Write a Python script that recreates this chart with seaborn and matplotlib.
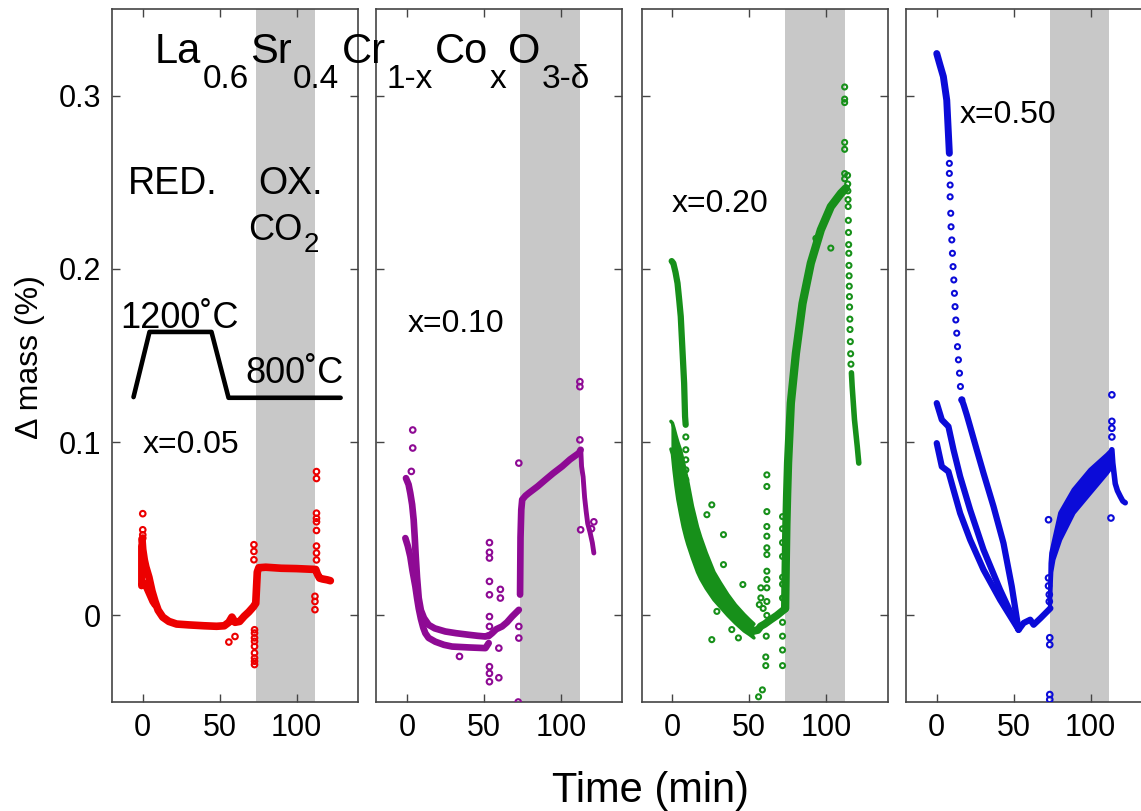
import matplotlib
matplotlib.use("Agg")
import matplotlib.pyplot as plt
import seaborn as sns

# ---------------- data ----------------
# Panel 1, x = 0.05 (red)
red_t = [-0.5, 0.0, 1.0, 2.0, 3.0, 4.0, 5.0, 6.0, 8.0, 10.0, 13.0, 17.0, 22.0, 30.0, 40.0, 48.0, 53.0,
         56.0, 58.0, 60.0, 63.0, 66.0, 69.0, 72.0, 73.5, 74.0, 74.5, 75.5, 80.0, 90.0, 100.0, 110.0,
         112.5, 113.5, 115.0, 117.0, 120.0, 122.0]
red_y = [0.044, 0.038, 0.032, 0.028, 0.025, 0.022, 0.018, 0.014, 0.008, 0.003, -0.001, -0.0035, -0.005,
         -0.0055, -0.006, -0.0063, -0.006, -0.004, -0.001, -0.004, -0.0035, -0.0005, 0.002, 0.005, 0.007,
         0.016, 0.025, 0.0275, 0.0278, 0.0272, 0.0270, 0.0266, 0.0265, 0.024, 0.0215, 0.021, 0.0205, 0.020]
red_lo_t = [-0.8, -0.8, 0.5, 2.0, 3.5, 5.0, 6.5, 8.0]
red_lo_y = [0.040, 0.017, 0.019, 0.017, 0.014, 0.011, 0.008, 0.006]
red_out_t = [0.0, 0.0, 0.0, 0.0, 56.0, 60.0, 72.3, 72.3, 72.3, 72.7, 72.7, 72.7, 72.7, 72.7, 72.7,
             72.7, 72.7, 72.7, 113.0, 113.0, 113.0, 113.0, 113.0, 113.0, 113.0, 113.0, 113.0,
             112.0, 112.0, 112.0]
red_out_y = [0.0587, 0.0494, 0.0465, 0.0446, -0.0154, -0.0122, 0.0408, 0.0369, 0.0321, -0.0083,
             -0.0102, -0.013, -0.015, -0.0179, -0.0217, -0.0246, -0.0265, -0.0284, 0.083, 0.079,
             0.059, 0.056, 0.054, 0.049, 0.040, 0.036, 0.032, 0.011, 0.008, 0.0033]

# Panel 2, x = 0.10 (purple)
pur_a_t = [-0.7, 1.0, 2.1, 3.3, 4.3, 5.0, 5.6, 6.5, 7.6, 9.0, 11.0, 14.1, 18.0, 24.9, 32.0, 40.1,
           46.0, 51.0, 53.0]
pur_a_y = [0.0792, 0.0755, 0.0706, 0.064, 0.0552, 0.045, 0.035, 0.022, 0.010, 0.003, -0.0015,
           -0.0055, -0.0075, -0.0093, -0.0103, -0.0112, -0.0118, -0.0122, -0.0115]
pur_b_t = [-1.1, 0.5, 2.1, 3.5, 5.4, 6.5, 7.6, 9.0, 10.5, 11.9, 14.0, 18.4, 24.0, 29.3, 40.0, 51.0, 53.1]
pur_b_y = [0.0446, 0.040, 0.034, 0.026, 0.0167, 0.010, 0.004, -0.002, -0.007, -0.0103, -0.013,
           -0.0152, -0.017, -0.018, -0.0185, -0.0189, -0.016]
pur_c_t = [53.0, 55.3, 58.0, 61.8, 65.0, 68.3, 72.7]
pur_c_y = [-0.012, -0.0103, -0.008, -0.0064, -0.004, -0.0007, 0.0032]
pur_ox_t = [73.5, 73.8, 74.3, 74.9, 77.0, 79.2, 85.0, 90.0, 95.0, 100.9, 106.0, 111.8, 112.9]
pur_ox_y = [0.012, 0.045, 0.061, 0.0668, 0.069, 0.0706, 0.0745, 0.0783, 0.082, 0.086, 0.090,
            0.0937, 0.0956]
pur_end_t = [113.0, 113.5, 114.5, 115.5, 116.5, 117.5, 119.0, 120.5, 121.5]
pur_end_y = [0.0956, 0.086, 0.080, 0.068, 0.060, 0.053, 0.048, 0.042, 0.036]
pur_out_t = [3.7, 3.7, 2.8, 53.6, 53.6, 53.6, 53.6, 53.6, 53.6, 53.6, 53.6, 53.6, 53.6, 59.7, 59.7,
             60.7, 60.7, 34.1, 72.7, 72.7, 72.7, 72.3, 112.4, 112.4, 112.4, 112.9, 121.5, 120.0]
pur_out_y = [0.107, 0.0966, 0.0831, 0.042, 0.0364, 0.0331, 0.0196, 0.0119, -0.0007, -0.0064,
             -0.0296, -0.0335, -0.0383, -0.036, -0.0189, 0.015, 0.010, -0.0237, 0.0879, -0.0064,
             -0.0131, -0.050, 0.1349, 0.132, 0.1013, 0.0494, 0.054, 0.050]

# Panel 3, x = 0.20 (green)
grn_a_t = [-0.5, 0.6, 2.0, 3.3, 4.4, 5.4, 6.5, 7.6, 8.2, 8.6]
grn_a_y = [0.2045, 0.2032, 0.198, 0.1917, 0.182, 0.1725, 0.1533, 0.134, 0.1148, 0.110]
grn_b_t = [-1.0, 0.0, 1.0, 2.2, 3.5, 5.4, 7.0, 8.7, 10.0, 13.0, 16.3, 18.4, 22.0, 27.0, 31.0, 36.0,
           41.0, 46.6, 50.0, 53.0]
grn_b_hi = [0.112, 0.111, 0.108, 0.104, 0.100, 0.095, 0.089, 0.082, 0.077, 0.063, 0.051, 0.045,
            0.036, 0.025, 0.019, 0.012, 0.006, 0.0005, -0.0025, -0.005]
grn_b_lo = [0.096, 0.093, 0.084, 0.075, 0.067, 0.058, 0.051, 0.045, 0.041, 0.033, 0.025,
            0.021, 0.0155, 0.009, 0.005, 0.000, -0.0045, -0.009, -0.011, -0.013]
grn_c_t = [53.0, 55.5, 57.4, 60.0, 63.9, 68.0, 72.6]
grn_c_y = [-0.009, -0.0085, -0.0063, -0.005, -0.0025, 0.000, 0.0033]
grn_ox_t = [73.3, 73.7, 74.1, 74.6, 75.2, 77.0, 80.3, 84.6, 90.0, 96.5, 103.0, 109.6, 112.8]
grn_ox_y = [0.004, 0.030, 0.052, 0.070, 0.088, 0.1225, 0.1513, 0.180, 0.2033, 0.2225, 0.2359,
            0.2436, 0.2465]
grn_dec_t = [116.4, 116.9, 118.4, 120.2, 121.2]
grn_dec_y = [0.140, 0.132, 0.1129, 0.0975, 0.0879]
grn_out_t = [8.7, 8.7, 8.7, 8.7, 8.7, 8.7,
             113.9, 114.0, 114.1, 114.2, 114.3, 114.4, 114.5, 114.6, 114.7, 114.8, 114.9, 115.0,
             115.1, 115.2, 115.4, 115.5, 115.7, 115.9, 116.1,
             112.0, 112.0, 112.0, 112.0, 112.0, 112.0, 112.0, 103.0, 93.3,
             61.4, 61.4, 61.4, 61.4, 61.4, 61.4, 61.4, 61.4, 61.4, 61.4, 61.4, 61.4, 61.0, 60.7, 60.7,
             58.5, 56.0, 57.5, 57.5, 56.5, 59.0,
             25.6, 22.4, 33.2, 33.2, 45.8, 28.9, 25.6, 38.6, 42.9,
             71.6, 71.6, 71.6, 71.6, 71.6, 71.6, 71.6, 71.6, 71.6, 71.6, 71.6]
grn_out_y = [0.103, 0.0956, 0.0898, 0.084, 0.0783, 0.0725,
             0.254, 0.249, 0.245, 0.240, 0.236, 0.228, 0.221, 0.214, 0.209, 0.202, 0.196, 0.190,
             0.184, 0.178, 0.171, 0.165, 0.158, 0.151, 0.145,
             0.305, 0.298, 0.296, 0.273, 0.269, 0.255, 0.252, 0.212, 0.2176,
             0.0811, 0.0744, 0.0599, 0.0513, 0.0457, 0.039, 0.0351, 0.0255, 0.0207, 0.0159, 0.008, 0.0,
             -0.012, -0.024, -0.029,
             -0.043, -0.047, 0.0159, 0.0101, 0.0062, 0.004,
             0.0638, 0.0581, 0.0466, 0.0293, 0.0178, 0.0023, -0.014, -0.0082, -0.013,
             0.057, 0.050, 0.042, 0.034, 0.022, 0.018, 0.010, -0.004, -0.012, -0.020, -0.029]

# Panel 4, x = 0.50 (blue)
blu_c1_t = [0.0, 2.0, 4.3, 6.5, 8.2]
blu_c1_y = [0.3243, 0.318, 0.311, 0.2974, 0.2667]
blu_chain_t = [8.2, 8.2, 8.7, 8.7, 9.1, 9.3, 9.8, 10.2, 10.6, 11.1, 11.5, 11.9, 12.4, 13.0, 13.5,
               14.1, 14.8, 15.4, 16.3]
blu_chain_y = [0.2609, 0.2551, 0.2484, 0.2416, 0.2321, 0.2243, 0.2167, 0.2090, 0.2013, 0.1936,
               0.1859, 0.1782, 0.1705, 0.1629, 0.1551, 0.1475, 0.1398, 0.1321, 0.1244]
blu_c1b_t = [16.3, 17.5, 19.6, 21.7, 26.0, 30.4, 36.9, 43.4, 48.8, 53.2]
blu_c1b_y = [0.1244, 0.1215, 0.1155, 0.109, 0.0956, 0.0821, 0.0629, 0.0417, 0.0167, -0.0082]
blu_c2_t = [0.0, 3.3, 7.6, 10.9, 15.2, 21.7, 30.4, 41.2, 53.2]
blu_c2_y = [0.1225, 0.1129, 0.109, 0.0956, 0.0802, 0.061, 0.0379, 0.0148, -0.0082]
blu_c3_t = [0.0, 3.3, 7.6, 10.9, 15.2, 21.7, 30.4, 41.2, 53.2]
blu_c3_y = [0.0994, 0.0859, 0.083, 0.0725, 0.059, 0.0437, 0.0264, 0.009, -0.0082]
blu_min_t = [53.2, 56.5, 60.8, 63.0, 67.4, 73.9]
blu_min_y = [-0.0084, -0.0044, -0.0025, -0.0054, -0.0017, 0.0041]
blu_ox_t = [73.6, 74.0, 74.5, 75.9, 80.3, 89.0, 99.8, 110.7, 113.9]
blu_ox_hi = [0.008, 0.030, 0.036, 0.0417, 0.0591, 0.0725, 0.084, 0.0927, 0.0956]
blu_ox_lo = [0.004, 0.015, 0.025, 0.0322, 0.0437, 0.0591, 0.0706, 0.0821, 0.086]
blu_end_t = [113.9, 114.5, 116.1, 117.5, 119.4, 121.0, 122.6]
blu_end_y = [0.0956, 0.088, 0.076, 0.072, 0.0686, 0.066, 0.065]
blu_out_t = [113.9, 113.9, 113.9, 113.9, 113.3, 72.7, 72.7, 72.7, 73.2, 73.2, 73.5, 73.5, 73.5, 73.5]
blu_out_y = [0.1273, 0.112, 0.108, 0.103, 0.0562, 0.0552, 0.0216, 0.017, 0.012, 0.008, -0.0129,
             -0.0169, -0.0457, -0.0486]

# temperature programme sketch (panel 1)
temp_t = [-6.0, 4.4, 44.7, 55.8, 128.7]
temp_y = [0.126, 0.1636, 0.1636, 0.1256, 0.1256]

ox_start, ox_end = 73.5, 112.3
xticks = [0, 50, 100]
yticks = [0, 0.1, 0.2, 0.3]
ytick_labels = ["0", "0.1", "0.2", "0.3"]

RED, PUR, GRN, BLU = "#ec0000", "#8e0a94", "#17901a", "#0b0bd8"

# ---------------- figure ----------------
sns.set_theme(style="white")
plt.rcParams["font.family"] = ["Liberation Sans", "DejaVu Sans"]
plt.rcParams["text.color"] = "black"
plt.rcParams["axes.labelcolor"] = "black"
plt.rcParams["xtick.color"] = "black"
plt.rcParams["ytick.color"] = "black"

W, H = 1141, 811
fig = plt.figure(figsize=(W / 100, H / 100), dpi=100)

lefts = [112, 376.3, 641.7, 906]
axes = []
for i, lpx in enumerate(lefts):
    ax = fig.add_axes([lpx / W, 109 / H, 246 / W, 693 / H])
    ax.set_xlim(-20, 140)
    ax.set_ylim(-0.05, 0.35)
    ax.axvspan(ox_start, ox_end, color="#c8c8c8", lw=0, zorder=0)
    ax.set_xticks(xticks)
    ax.set_xticklabels([str(v) for v in xticks])
    ax.set_yticks(yticks)
    ax.set_yticklabels(ytick_labels)
    ax.tick_params(direction="in", length=6, width=1.0, color="#444444", top=True, right=True,
                   labelsize=22, labelcolor="black", pad=8,
                   labelleft=(i == 0), left=True, bottom=True)
    for s in ax.spines.values():
        s.set_color("#444444")
        s.set_linewidth(1.2)
        s.set_visible(True)
    ax.set_facecolor("white")
    axes.append(ax)


def band(ax, t, y, c, lw):
    sns.lineplot(x=t, y=y, ax=ax, color=c, linewidth=lw, estimator=None, sort=False,
                 legend=False, solid_capstyle="round", solid_joinstyle="round", zorder=2)


def dots(ax, t, y, c, s=16):
    sns.scatterplot(x=t, y=y, ax=ax, marker="o", s=s, color=c, facecolors="none",
                    edgecolor=c, linewidth=1.5, legend=False, zorder=3)


a1, a2, a3, a4 = axes
# panel 1
band(a1, red_t, red_y, RED, 5.5)
band(a1, red_lo_t, red_lo_y, RED, 5.0)
dots(a1, red_out_t, red_out_y, RED)
sns.lineplot(x=temp_t, y=temp_y, ax=a1, color="black", linewidth=3.3, estimator=None,
             sort=False, legend=False)
# panel 2
band(a2, pur_a_t, pur_a_y, PUR, 4.8)
band(a2, pur_b_t, pur_b_y, PUR, 4.8)
band(a2, pur_c_t, pur_c_y, PUR, 4.8)
band(a2, pur_ox_t, pur_ox_y, PUR, 4.8)
band(a2, pur_end_t, pur_end_y, PUR, 3.5)
dots(a2, pur_out_t, pur_out_y, PUR)
# panel 3
band(a3, grn_a_t, grn_a_y, GRN, 4.5)
a3.fill_between(grn_b_t, grn_b_lo, grn_b_hi, color=GRN, lw=0, zorder=2)
band(a3, grn_b_t, grn_b_hi, GRN, 2.5)
band(a3, grn_b_t, grn_b_lo, GRN, 2.5)
band(a3, grn_c_t, grn_c_y, GRN, 5.5)
band(a3, grn_ox_t, grn_ox_y, GRN, 6.0)
band(a3, grn_dec_t, grn_dec_y, GRN, 4.0)
dots(a3, grn_out_t, grn_out_y, GRN, s=13)
# panel 4
band(a4, blu_c1_t, blu_c1_y, BLU, 5.0)
dots(a4, blu_chain_t, blu_chain_y, BLU, s=13)
band(a4, blu_c1b_t, blu_c1b_y, BLU, 4.5)
band(a4, blu_c2_t, blu_c2_y, BLU, 4.5)
band(a4, blu_c3_t, blu_c3_y, BLU, 4.5)
band(a4, blu_min_t, blu_min_y, BLU, 4.5)
a4.fill_between(blu_ox_t, blu_ox_lo, blu_ox_hi, color=BLU, lw=0, zorder=2)
band(a4, blu_ox_t, blu_ox_hi, BLU, 3.0)
band(a4, blu_ox_t, blu_ox_lo, BLU, 3.0)
band(a4, blu_end_t, blu_end_y, BLU, 4.0)
dots(a4, blu_out_t, blu_out_y, BLU)

for ax in axes:
    ax.set_xlabel("")
    ax.set_ylabel("")


# ---------------- texts ----------------
def fx(px):
    return px / W


def fy(py):
    return 1 - py / H


renderer = fig.canvas.get_renderer()
pieces = [("La", False), ("0.6", True), ("Sr", False), ("0.4", True), ("Cr", False),
          ("1-x", True), ("Co", False), ("x", True), ("O", False), ("3-δ", True)]
xcur = 155
for s, sub in pieces:
    t = fig.text(fx(xcur), fy(88 if sub else 63), s, fontsize=24 if sub else 30,
                 ha="left", va="baseline", color="black")
    bb = t.get_window_extent(renderer=renderer)
    xcur = bb.x1 + (2 if sub else 1)

fig.text(fx(128), fy(194), "RED.", fontsize=27, ha="left", va="baseline", color="black")
fig.text(fx(258), fy(194), "OX.", fontsize=27, ha="left", va="baseline", color="black")
t = fig.text(fx(248), fy(240), "CO", fontsize=26, ha="left", va="baseline", color="black")
bb = t.get_window_extent(renderer=renderer)
fig.text(bb.x1 / W + 1 / W, fy(252), "2", fontsize=20, ha="left", va="baseline", color="black")
fig.text(fx(120), fy(328), "1200˚C", fontsize=26, ha="left", va="baseline", color="black")
fig.text(fx(245), fy(383), "800˚C", fontsize=26, ha="left", va="baseline", color="black")

fig.text(fx(143), fy(453), "x=0.05", fontsize=23, ha="left", va="baseline", color="black")
fig.text(fx(408), fy(332), "x=0.10", fontsize=23, ha="left", va="baseline", color="black")
fig.text(fx(672), fy(212), "x=0.20", fontsize=23, ha="left", va="baseline", color="black")
fig.text(fx(960), fy(123), "x=0.50", fontsize=23, ha="left", va="baseline", color="black")

fig.text(fx(30), fy(357), "Δ mass (%)", fontsize=23, rotation=90, ha="center", va="center",
         color="black")
fig.text(fx(650), fy(802), "Time (min)", fontsize=30, ha="center", va="baseline", color="black")

fig.savefig("out.png", dpi=100)
